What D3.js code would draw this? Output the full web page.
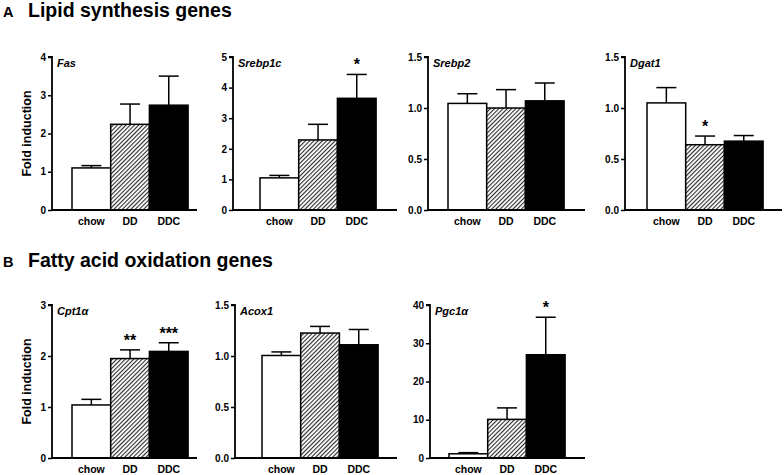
<!DOCTYPE html>
<html>
<head>
<meta charset="utf-8">
<script src="https://cdn.jsdelivr.net/npm/d3@7"></script>
<style>
  body { margin: 0; background: #fff; }
  svg { display: block; font-family: "Liberation Sans", Arial, sans-serif; }
</style>
</head>
<body>
<svg id="chart" width="784" height="475"></svg>
<script>
// ---- data ----
const groups = ["chow", "DD", "DDC"];
const geneNames = ["Fas", "Srebp1c", "Srebp2", "Dgat1", "Cpt1α", "Acox1", "Pgc1α"];
const sectionTitles = ["Lipid synthesis genes", "Fatty acid oxidation genes"];
const sectionLetters = ["A", "B"];
const yAxisLabel = "Fold induction";

const fasMean = [1.10, 2.24, 2.74];
const fasSem = [0.06, 0.53, 0.76];
const srebp1cMean = [1.05, 2.29, 3.65];
const srebp1cSem = [0.08, 0.51, 0.78];
const srebp2Mean = [1.045, 1.00, 1.07];
const srebp2Sem = [0.095, 0.18, 0.175];
const dgat1Mean = [1.05, 0.64, 0.675];
const dgat1Sem = [0.15, 0.085, 0.055];
const cpt1aMean = [1.04, 1.95, 2.09];
const cpt1aSem = [0.11, 0.17, 0.17];
const acox1Mean = [1.005, 1.225, 1.11];
const acox1Sem = [0.035, 0.065, 0.15];
const pgc1aMean = [1.1, 10.1, 27.0];
const pgc1aSem = [0.3, 3.0, 9.8];

const fasSig = ["", "", ""];
const srebp1cSig = ["", "", "*"];
const srebp2Sig = ["", "", ""];
const dgat1Sig = ["", "*", ""];
const cpt1aSig = ["", "**", "***"];
const acox1Sig = ["", "", ""];
const pgc1aSig = ["", "", "*"];

const fasTicks = [0, 1, 2, 3, 4];
const srebp1cTicks = [0, 1, 2, 3, 4, 5];
const srebp2Ticks = [0, 0.5, 1.0, 1.5];
const dgat1Ticks = [0, 0.5, 1.0, 1.5];
const cpt1aTicks = [0, 1, 2, 3];
const acox1Ticks = [0, 0.5, 1.0, 1.5];
const pgc1aTicks = [0, 10, 20, 30, 40];

// ---- panels (data refs + layout) ----
const panels = [
  { gene: geneNames[0], mean: fasMean, sem: fasSem, sig: fasSig, ticks: fasTicks, fmt: "d", row: 0, ax: 52, bx: 72, end: 197, ylab: true },
  { gene: geneNames[1], mean: srebp1cMean, sem: srebp1cSem, sig: srebp1cSig, ticks: srebp1cTicks, fmt: "d", row: 0, ax: 233, bx: 260, end: 397 },
  { gene: geneNames[2], mean: srebp2Mean, sem: srebp2Sem, sig: srebp2Sig, ticks: srebp2Ticks, fmt: ".1f", row: 0, ax: 428, bx: 448, end: 585 },
  { gene: geneNames[3], mean: dgat1Mean, sem: dgat1Sem, sig: dgat1Sig, ticks: dgat1Ticks, fmt: ".1f", row: 0, ax: 625, bx: 647, end: 782 },
  { gene: geneNames[4], mean: cpt1aMean, sem: cpt1aSem, sig: cpt1aSig, ticks: cpt1aTicks, fmt: "d", row: 1, ax: 52, bx: 72, end: 197, ylab: true },
  { gene: geneNames[5], mean: acox1Mean, sem: acox1Sem, sig: acox1Sig, ticks: acox1Ticks, fmt: ".1f", row: 1, ax: 235, bx: 262, end: 397 },
  { gene: geneNames[6], mean: pgc1aMean, sem: pgc1aSem, sig: pgc1aSig, ticks: pgc1aTicks, fmt: "d", row: 1, ax: 430, bx: 449, end: 585 }
];
const rows = [
  { top: 57, bottom: 210, titleY: 17 },
  { top: 305, bottom: 458, titleY: 267 }
];
const barW = 38.7;

const svg = d3.select("#chart");

// hatch pattern
const defs = svg.append("defs");
const pat = defs.append("pattern")
  .attr("id", "hatch").attr("patternUnits", "userSpaceOnUse")
  .attr("width", 3).attr("height", 3)
  .attr("patternTransform", "rotate(45)");
pat.append("rect").attr("width", 3).attr("height", 3).attr("fill", "#fff");
pat.append("line").attr("x1", 0).attr("y1", 0).attr("x2", 0).attr("y2", 3)
  .attr("stroke", "#2a2a2a").attr("stroke-width", 2.2);

const fills = ["#fff", "url(#hatch)", "#000"];

// section titles
rows.forEach((r, i) => {
  svg.append("text").attr("x", 3).attr("y", r.titleY)
    .attr("font-size", 14.5).attr("font-weight", "bold").text(sectionLetters[i]);
  svg.append("text").attr("x", 28).attr("y", r.titleY)
    .attr("font-size", 19.5).attr("font-weight", "bold").text(sectionTitles[i]);
});

panels.forEach(p => {
  const r = rows[p.row];
  const y = d3.scaleLinear().domain([p.ticks[0], p.ticks[p.ticks.length - 1]]).range([r.bottom, r.top]);
  const x = d3.scaleBand().domain(groups).range([p.bx, p.bx + barW * 3]).padding(0);
  const g = svg.append("g");

  // bars
  groups.forEach((grp, i) => {
    const v = p.mean[i], e = v + p.sem[i];
    const cx = x(grp) + x.bandwidth() / 2;
    // error bar (upper only)
    g.append("line").attr("x1", cx).attr("x2", cx).attr("y1", y(v)).attr("y2", y(e))
      .attr("stroke", "#000").attr("stroke-width", 1.5);
    g.append("line").attr("x1", cx - 10).attr("x2", cx + 10).attr("y1", y(e)).attr("y2", y(e))
      .attr("stroke", "#000").attr("stroke-width", 1.5);
    g.append("rect").attr("x", x(grp)).attr("y", y(v))
      .attr("width", x.bandwidth()).attr("height", y(0) - y(v))
      .attr("fill", fills[i]).attr("stroke", "#000").attr("stroke-width", 1.5);
    if (p.sig[i]) {
      g.append("text").attr("x", cx).attr("y", y(e) - 4)
        .attr("text-anchor", "middle").attr("font-size", 16).attr("font-weight", "bold")
        .text(p.sig[i]);
    }
  });

  // y axis
  const yAxis = d3.axisLeft(y).tickValues(p.ticks).tickSize(4).tickPadding(2)
    .tickFormat(d3.format(p.fmt));
  const ya = g.append("g").attr("transform", `translate(${p.ax},0)`).call(yAxis);
  ya.select(".domain").attr("stroke-width", 1.8).attr("d", `M-4,${r.top}H0V${r.bottom}`);
  ya.selectAll(".tick line").attr("stroke-width", 1.5);
  ya.selectAll(".tick text").attr("font-size", 10).attr("font-weight", "bold")
    .attr("font-family", "Liberation Sans, Arial, sans-serif").attr("fill", "#000");

  // x axis line
  g.append("line").attr("x1", p.ax).attr("x2", p.end).attr("y1", r.bottom).attr("y2", r.bottom)
    .attr("stroke", "#000").attr("stroke-width", 1.8);

  // x labels
  const xAxis = d3.axisBottom(x).tickSize(0).tickPadding(8);
  const xa = g.append("g").attr("transform", `translate(0,${r.bottom})`).call(xAxis);
  xa.select(".domain").remove();
  xa.selectAll(".tick text").attr("font-size", 10.5).attr("font-weight", "bold")
    .attr("font-family", "Liberation Sans, Arial, sans-serif").attr("fill", "#000");

  // gene label
  g.append("text").attr("x", p.ax + 5).attr("y", r.top + 10)
    .attr("font-size", 11).attr("font-weight", "bold").attr("font-style", "italic")
    .text(p.gene);

  if (p.ylab) {
    g.append("text")
      .attr("transform", `translate(31,${(r.top + r.bottom) / 2}) rotate(-90)`)
      .attr("text-anchor", "middle").attr("font-size", 12.5).attr("font-weight", "bold")
      .text(yAxisLabel);
  }
});
</script>
</body>
</html>
